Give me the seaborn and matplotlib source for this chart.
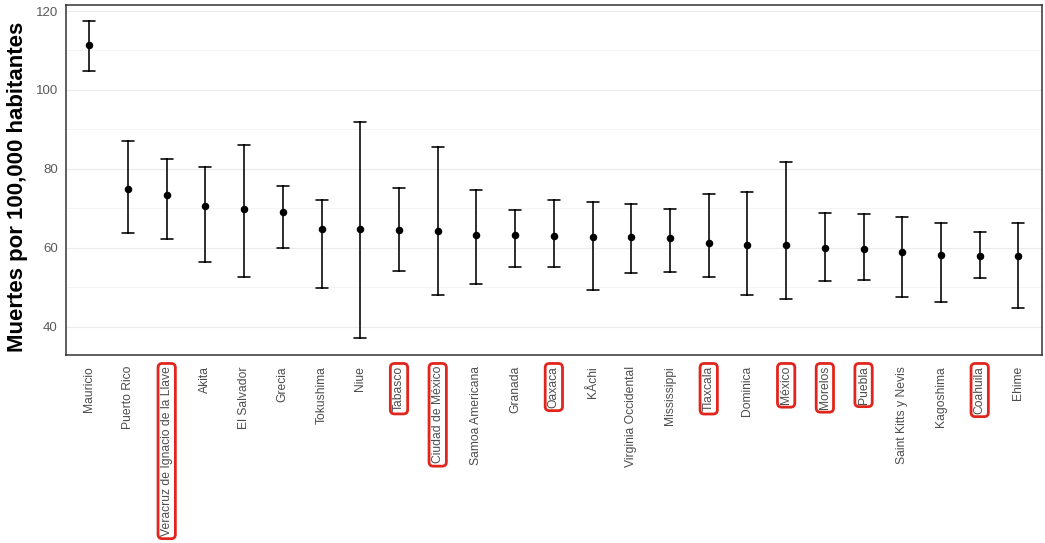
import numpy as np
import pandas as pd
import matplotlib
matplotlib.use("Agg")
import matplotlib.pyplot as plt
from matplotlib.ticker import MultipleLocator
import seaborn as sns

# Values
lugares = ['Mauricio', 'Puerto Rico', 'Veracruz de Ignacio de la Llave', 'Akita',
           'El Salvador', 'Grecia', 'Tokushima', 'Niue', 'Tabasco',
           'Ciudad de México', 'Samoa Americana', 'Granada', 'Oaxaca', 'KÅchi',
           'Virginia Occidental', 'Mississippi', 'Tlaxcala', 'Dominica', 'México',
           'Morelos', 'Puebla', 'Saint Kitts y Nevis', 'Kagoshima', 'Coahuila', 'Ehime']
tasa = [111.3, 75.0, 73.3, 70.7, 69.8, 69.0, 64.8, 64.8, 64.5, 64.2, 63.3, 63.3, 63.0,
        62.7, 62.7, 62.5, 61.3, 60.7, 60.7, 59.9, 59.6, 58.8, 58.2, 57.9, 57.9]
inferior = [104.7, 63.7, 62.1, 56.4, 52.7, 59.9, 49.9, 37.1, 54.2, 48.1, 50.7, 55.0, 55.0,
            49.3, 53.6, 53.9, 52.5, 48.1, 47.0, 51.6, 51.9, 47.6, 46.2, 52.2, 44.7]
superior = [117.5, 87.0, 82.4, 80.5, 86.1, 75.7, 72.2, 91.8, 75.2, 85.6, 74.7, 69.6, 72.2,
            71.6, 71.1, 69.9, 73.6, 74.1, 81.8, 68.7, 68.5, 67.9, 66.2, 63.9, 66.2]
resaltados = ['Veracruz de Ignacio de la Llave', 'Tabasco', 'Ciudad de México', 'Oaxaca',
              'Tlaxcala', 'México', 'Morelos', 'Puebla', 'Coahuila']

# long format: three rows per place, median = point, min/max = interval
df = pd.DataFrame({
    'lugar': lugares * 3,
    'valor': inferior + tasa + superior,
})

sns.set_style('white')
plt.rcParams['font.family'] = ['Liberation Sans', 'DejaVu Sans']

fig = plt.figure(figsize=(10.45, 5.43), dpi=100)
ax = fig.add_axes([0.0632, 0.3462, 0.9336, 0.6451])

sns.pointplot(data=df, x='lugar', y='valor', order=lugares,
              estimator='median', errorbar=lambda v: (v.min(), v.max()),
              color='black', linestyle='none', marker='o', markersize=3.4,
              capsize=0.31, err_kws={'linewidth': 1.15}, ax=ax)

ax.set_xlim(-0.6, len(lugares) - 0.4)
ax.set_ylim(32.8, 121.6)
ax.yaxis.set_major_locator(MultipleLocator(20))
ax.yaxis.set_minor_locator(MultipleLocator(10))
ax.grid(False)
ax.grid(axis='y', which='major', color='#ebebeb', linewidth=0.8)
ax.grid(axis='y', which='minor', color='#f3f3f3', linewidth=0.6)
ax.set_axisbelow(True)

for s in ax.spines.values():
    s.set_color('#333333')
    s.set_linewidth(1.1)

ax.tick_params(axis='both', which='major', length=3, width=0.8, color='#333333',
               labelsize=8.7, labelcolor='#4d4d4d', pad=3)
ax.tick_params(axis='y', labelsize=9.5, labelcolor='#5a5a5a')
ax.tick_params(axis='y', which='minor', length=0)
ax.tick_params(axis='x', pad=5)
ax.set_xticks(range(len(lugares)))
ax.set_xticklabels(lugares, rotation=90, va='top', ha='center')
for lbl in ax.get_xticklabels():
    if lbl.get_text() in resaltados:
        lbl.set_bbox(dict(boxstyle='round,pad=0.22,rounding_size=0.35',
                          fc='none', ec='#e0261c', lw=2))

ax.set_xlabel('')
ax.set_ylabel('')
fig.text(0.0165, 0.655, 'Muertes por 100,000 habitantes', rotation=90,
         ha='center', va='center', fontsize=16, fontweight='bold', color='black')

fig.savefig('out.png', dpi=100)
